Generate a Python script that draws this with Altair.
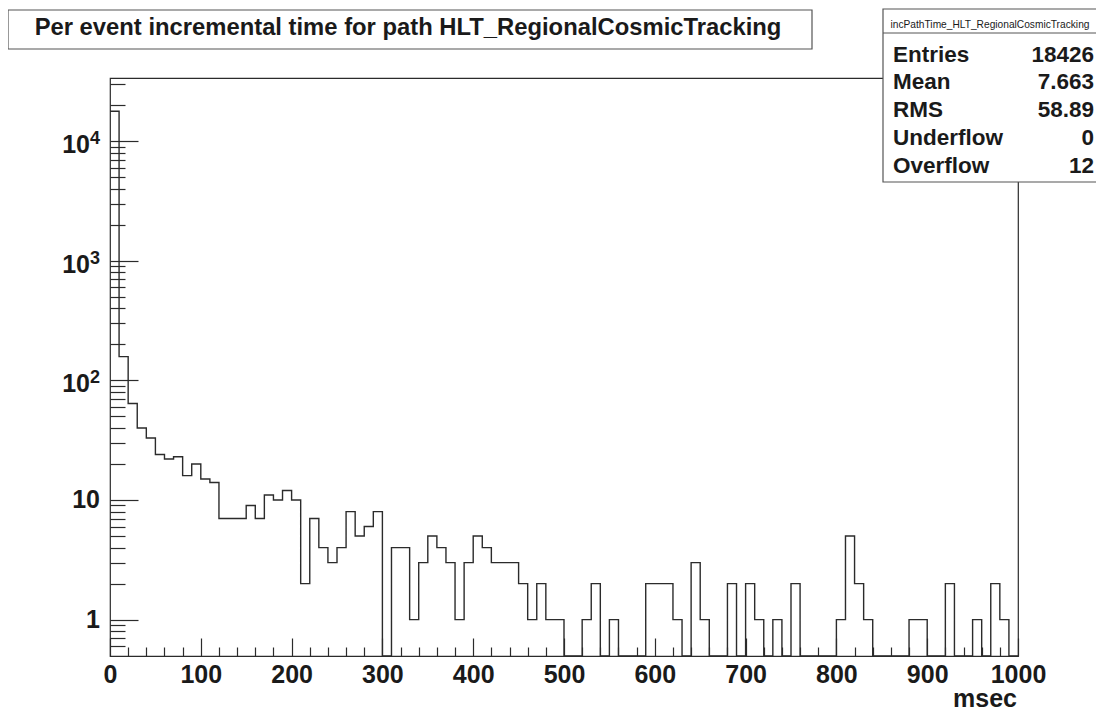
import altair as alt
import pandas as pd

# ---------------- data ----------------
counts = [17765, 158, 64, 40, 33, 24, 22, 23, 16, 20,
          15, 14, 7, 7, 7, 9, 7, 11, 10, 12,
          10, 2, 7, 4, 3, 4, 8, 5, 6, 8,
          0, 4, 4, 1, 3, 5, 4, 3, 1, 3,
          5, 4, 3, 3, 3, 2, 1, 2, 1, 1,
          0, 0, 1, 2, 0, 1, 0, 0, 0, 2,
          2, 2, 1, 0, 3, 1, 0, 0, 2, 0,
          2, 1, 0, 1, 0, 2, 0, 0, 0, 0,
          1, 5, 2, 1, 0, 0, 0, 0, 1, 1,
          0, 0, 2, 0, 0, 1, 0, 2, 1, 0]
bin_width = 10
bin_low = [bin_width * i for i in range(len(counts))]

x_major = [0, 100, 200, 300, 400, 500, 600, 700, 800, 900, 1000]
x_minor = [v for v in range(20, 1000, 20) if v % 100]
y_major = [1, 10, 100, 1000, 10000]
y_base = ["1", "10", "10", "10", "10"]
y_exp = ["", "", "2", "3", "4"]
y_minor = [0.6, 0.7, 0.8, 0.9] + [m * 10 ** e for e in range(4) for m in range(2, 10)] + [20000, 30000]

title_text = "Per event incremental time for path HLT_RegionalCosmicTracking"
stats_name = "incPathTime_HLT_RegionalCosmicTracking"
stats_labels = ["Entries", "Mean", "RMS", "Underflow", "Overflow"]
stats_values = ["18426", "7.663", "58.89", "0", "12"]
x_title = "msec"

YMIN, YMAX = 0.497, 33650
W, H = 908, 578
FONT = "Liberation Sans"
INK = "#2b2b2b"
TXT = "#1a1a1a"

hist = pd.DataFrame({"msec": bin_low + [bin_low[-1] + bin_width],
                     "count": counts + [counts[-1]]})
ylab = pd.DataFrame({"v": y_major, "base": y_base, "exp": y_exp})
one = alt.Data(values=[{"a": 1}])

xscale = alt.Scale(domain=[0, 1000], nice=False, zero=False)
yscale = alt.Scale(type="log", domain=[YMIN, YMAX], nice=False, clamp=True)

base_hist = alt.Chart(hist).transform_calculate(yv=f"max(datum.count, {YMIN})")

line = base_hist.mark_line(interpolate="step-after", color=INK, strokeWidth=1.4).encode(
    x=alt.X("msec:Q", scale=xscale,
            axis=alt.Axis(values=x_major, orient="bottom", offset=-18, tickSize=18,
                          tickColor=INK, tickWidth=1.2, domain=False, grid=False,
                          format="d",
                          labelFont=FONT, labelFontSize=25, labelFontWeight="bold",
                          labelColor=TXT, labelPadding=6, labelFlush=False,
                          labelOverlap=False, title=None)),
    y=alt.Y("yv:Q", scale=yscale,
            axis=alt.Axis(values=y_major, orient="left", offset=-28, tickSize=28,
                          tickColor=INK, tickWidth=1.2, domain=False, grid=False,
                          labels=False, title=None)),
)

minor = base_hist.mark_point(opacity=0).encode(
    x=alt.X("msec:Q", scale=xscale,
            axis=alt.Axis(values=x_minor, orient="bottom", offset=-9, tickSize=9,
                          tickColor=INK, tickWidth=1.2, domain=False, grid=False,
                          labels=False, title=None)),
    y=alt.Y("yv:Q", scale=yscale,
            axis=alt.Axis(values=y_minor, orient="left", offset=-15, tickSize=15,
                          tickColor=INK, tickWidth=1.2, domain=False, grid=False,
                          labels=False, title=None)),
)

ylab_plain = alt.Chart(ylab).transform_filter("datum.exp == ''").mark_text(
    align="right", baseline="middle", font=FONT, fontSize=25, fontWeight="bold",
    color=TXT).encode(
    y=alt.Y("v:Q", scale=yscale, axis=None), x=alt.value(-10), text="base:N")

ylab_pow = alt.Chart(ylab).transform_filter("datum.exp != ''").mark_text(
    align="right", baseline="middle", font=FONT, fontSize=25, fontWeight="bold",
    color=TXT, dy=4).encode(
    y=alt.Y("v:Q", scale=yscale, axis=None), x=alt.value(-20), text="base:N")

ylab_exp = alt.Chart(ylab).transform_filter("datum.exp != ''").mark_text(
    align="right", baseline="middle", font=FONT, fontSize=18, fontWeight="bold",
    color=TXT, dy=-2).encode(
    y=alt.Y("v:Q", scale=yscale, axis=None), x=alt.value(-10), text="exp:N")

xtitle = alt.Chart(one).mark_text(
    align="right", baseline="middle", font=FONT, fontSize=25, fontWeight="bold",
    color=TXT, text=x_title).encode(x=alt.value(W - 1), y=alt.value(H + 43))

title_box = alt.Chart(one).mark_rect(fill="white", stroke="#555", strokeWidth=1.2).encode(
    x=alt.value(-102), x2=alt.value(702), y=alt.value(-68), y2=alt.value(-29))
title_lbl = alt.Chart(one).mark_text(
    align="center", baseline="middle", font=FONT, fontSize=23.8, fontWeight="bold",
    color=TXT, text=title_text).encode(x=alt.value(298), y=alt.value(-50))

stats_box = alt.Chart(one).mark_rect(fill="white", stroke="#555", strokeWidth=1.2).encode(
    x=alt.value(773), x2=alt.value(1000), y=alt.value(-69), y2=alt.value(104))
stats_sep = alt.Chart(one).mark_rule(color="#555", strokeWidth=1).encode(
    x=alt.value(773), x2=alt.value(1000), y=alt.value(-45))
stats_head = alt.Chart(one).mark_text(
    align="center", baseline="middle", font=FONT, fontSize=10.2, color=TXT,
    text=stats_name).encode(x=alt.value(880), y=alt.value(-53))
stats_l = alt.Chart(one).mark_text(
    align="left", baseline="top", font=FONT, fontSize=22.5, fontWeight="bold",
    color=TXT, lineHeight=27.75, text=stats_labels).encode(
    x=alt.value(783), y=alt.value(-34.5))
stats_v = alt.Chart(one).mark_text(
    align="right", baseline="top", font=FONT, fontSize=22.5, fontWeight="bold",
    color=TXT, lineHeight=27.75, text=stats_values).encode(
    x=alt.value(984), y=alt.value(-34.5))

chart = alt.layer(
    line, minor, ylab_plain, ylab_pow, ylab_exp, xtitle,
    title_box, title_lbl, stats_box, stats_sep, stats_head, stats_l, stats_v,
).resolve_axis(x="independent", y="independent").properties(
    width=W, height=H,
    autosize=alt.AutoSizeParams(type="none"),
    padding={"left": 102, "top": 70, "right": 78, "bottom": 55},
    background="white",
).configure_view(stroke=INK, strokeWidth=1.2)

chart.save("out.html", embed_options={"renderer": "svg", "actions": False})
